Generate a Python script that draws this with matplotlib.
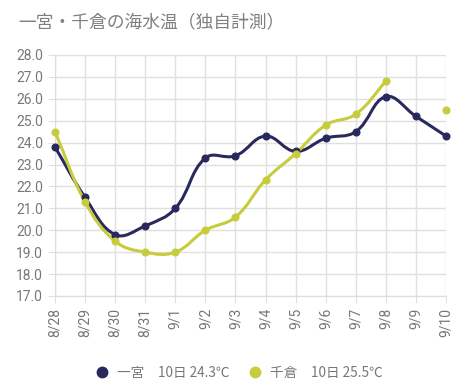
import numpy as np
import matplotlib
matplotlib.use("Agg")
import matplotlib.pyplot as plt
from matplotlib.path import Path
from matplotlib.patches import PathPatch
from matplotlib.lines import Line2D

plt.rcParams['font.family'] = ['Noto Sans CJK JP', 'DejaVu Sans']

# data
dates = ["8/28", "8/29", "8/30", "8/31", "9/1", "9/2", "9/3",
         "9/4", "9/5", "9/6", "9/7", "9/8", "9/9", "9/10"]
ichinomiya = [23.8, 21.5, 19.8, 20.2, 21.0, 23.3, 23.4,
              24.3, 23.6, 24.2, 24.5, 26.1, 25.2, 24.3]
chikura = [24.5, 21.3, 19.5, 19.0, 19.0, 20.0, 20.6,
           22.3, 23.5, 24.8, 25.3, 26.8, None, 25.5]
legend_labels = ["一宮　10日 24.3℃", "千倉　10日 25.5℃"]
colors = ["#29295e", "#c6cc3c"]

# pixel scale used for the spline control points
SX, SY = 30.0, 21.9
TENSION = 0.4


def spline_path(xs, ys):
    # Chart.js style bezier spline through the points
    px = np.array(xs) * SX
    py = np.array(ys) * SY
    n = len(px)
    verts = [(xs[0], ys[0])]
    codes = [Path.MOVETO]
    cps = []
    for i in range(n):
        p0 = (px[max(i - 1, 0)], py[max(i - 1, 0)])
        p1 = (px[i], py[i])
        p2 = (px[min(i + 1, n - 1)], py[min(i + 1, n - 1)])
        d01 = np.hypot(p1[0] - p0[0], p1[1] - p0[1])
        d12 = np.hypot(p2[0] - p1[0], p2[1] - p1[1])
        tot = d01 + d12
        s01 = d01 / tot if tot else 0
        s12 = d12 / tot if tot else 0
        fa, fb = TENSION * s01, TENSION * s12
        prev = (p1[0] - fa * (p2[0] - p0[0]), p1[1] - fa * (p2[1] - p0[1]))
        nxt = (p1[0] + fb * (p2[0] - p0[0]), p1[1] + fb * (p2[1] - p0[1]))
        cps.append((prev, nxt))
    for i in range(1, n):
        c1 = cps[i - 1][1]
        c2 = cps[i][0]
        verts += [(c1[0] / SX, c1[1] / SY), (c2[0] / SX, c2[1] / SY), (xs[i], ys[i])]
        codes += [Path.CURVE4] * 3
    return Path(verts, codes)


def draw_series(ax, vals, color):
    x = np.arange(len(vals))
    seg_x, seg_y = [], []
    for xi, v in list(zip(x, vals)) + [(None, None)]:
        if v is None:
            if len(seg_x) > 1:
                ax.add_patch(PathPatch(spline_path(seg_x, seg_y), fill=False,
                                       edgecolor=color, lw=2.2, zorder=3,
                                       capstyle="round", joinstyle="round"))
            seg_x, seg_y = [], []
        else:
            seg_x.append(xi)
            seg_y.append(v)
    pts = [(xi, v) for xi, v in zip(x, vals) if v is not None]
    ax.plot([p[0] for p in pts], [p[1] for p in pts], "o", color=color,
            markersize=4.8, zorder=4, clip_on=False)


fig = plt.figure(figsize=(4.76, 3.88), dpi=100)
ax = fig.add_axes([55 / 476, 1 - 296 / 388, (446 - 55) / 476, (296 - 55) / 388])

draw_series(ax, ichinomiya, colors[0])
draw_series(ax, chikura, colors[1])

ax.set_xlim(0, len(dates) - 1)
ax.set_ylim(17, 28)
ax.set_xticks(range(len(dates)))
ax.set_xticklabels(dates, rotation=90, family="Roboto")
ax.set_yticks(np.arange(17, 28.5, 1))
ax.set_yticklabels([f"{v:.1f}" for v in np.arange(17, 28.5, 1)], family="Roboto")
ax.grid(True, color="#e0e0e0", lw=1)
ax.set_axisbelow(True)
for s in ["top", "right"]:
    ax.spines[s].set_visible(False)
for s in ["left", "bottom"]:
    ax.spines[s].set_color("#dddddd")
ax.tick_params(colors="#e0e0e0", labelcolor="#777777", labelsize=10, length=5)

fig.text(18 / 476, 1 - 22 / 388, "一宮・千倉の海水温（独自計測）", fontsize=12.8,
         color="#808080", va="center", ha="left")

handles = [Line2D([], [], marker="o", ls="", color=c, markersize=7.5) for c in colors]
fig.legend(handles, legend_labels, loc="center", bbox_to_anchor=(0.5, 1 - 373 / 388),
           ncol=2, frameon=False, fontsize=9.8, labelcolor="#777777",
           handletextpad=0.5, columnspacing=1.3, handlelength=1.2)

fig.savefig("out.png", dpi=100)
